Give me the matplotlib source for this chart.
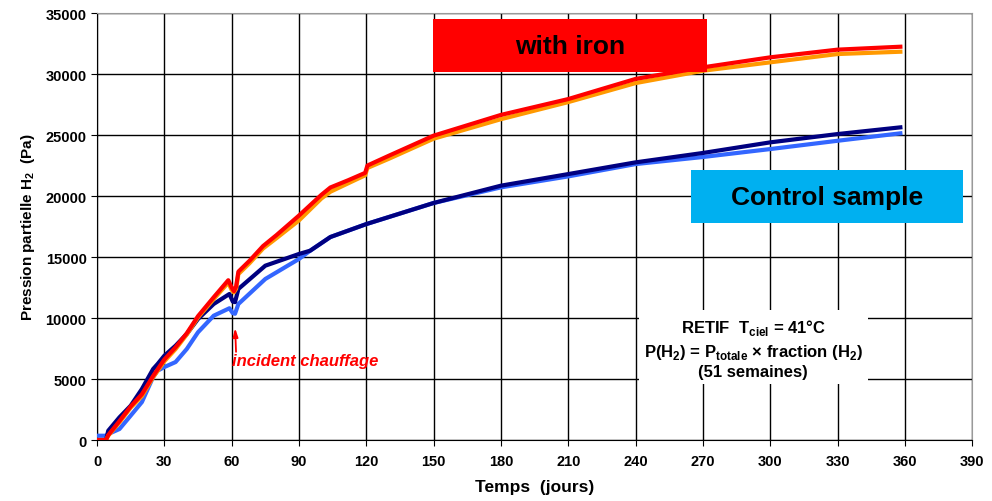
import matplotlib
matplotlib.use("Agg")
import matplotlib.pyplot as plt
from matplotlib.patches import Rectangle

plt.rcParams['font.family'] = ['Liberation Sans', 'DejaVu Sans']

# days
days_fe = [0, 4, 5, 10, 15, 20, 25, 30, 35, 40, 45, 52, 58.5, 60, 61, 62, 63, 68, 74, 80, 90, 100, 104, 112, 119.5, 120.5, 130, 150, 180, 210, 240, 270, 300, 330, 358]
red = [0, 0, 400, 1550, 2750, 3750, 5250, 6600, 7600, 8750, 10150, 11700, 13100, 12500, 12200, 12600, 13800, 14700, 15900, 16800, 18400, 20100, 20700, 21300, 21900, 22500, 23300, 24950, 26650, 27950, 29600, 30550, 31370, 32000, 32240]
orange = [0, 0, 350, 1450, 2650, 3600, 5150, 6450, 7450, 8650, 10050, 11550, 12900, 12300, 12100, 12400, 13600, 14500, 15700, 16550, 18000, 19800, 20350, 21050, 21700, 22300, 23050, 24700, 26300, 27700, 29260, 30270, 30960, 31640, 31830]

days_ctrl = [0, 4, 5, 10, 15, 20, 25, 27, 30, 35, 40, 45, 52, 59, 60.5, 61.5, 63, 75, 90, 95, 104, 120, 150, 180, 210, 240, 270, 300, 330, 358]
navy = [0, 0, 760, 1860, 2810, 4180, 5820, 6230, 6910, 7730, 8690, 9920, 11150, 11970, 11350, 11300, 12380, 14290, 15250, 15520, 16640, 17700, 19430, 20850, 21800, 22760, 23530, 24400, 25080, 25630]
blue = [350, 350, 490, 900, 2000, 3110, 5160, 5680, 5980, 6390, 7460, 8830, 10190, 10800, 10400, 10350, 11150, 13200, 14840, 15520, 16640, 17700, 19430, 20710, 21610, 22620, 23200, 23850, 24530, 25140]

xticks = list(range(0, 391, 30))
yticks = list(range(0, 35001, 5000))

fig = plt.figure(figsize=(9.92, 5.02), dpi=100)
ax = fig.add_axes([0.0978, 0.1215, 0.8822, 0.8505])

ax.plot(days_ctrl, blue, color='#3366FF', lw=3, zorder=3)
ax.plot(days_ctrl, navy, color='#000080', lw=3, zorder=3)
ax.plot(days_fe, orange, color='#FF9900', lw=3, zorder=4)
ax.plot(days_fe, red, color='#FF0000', lw=3, zorder=4)

ax.set_xlim(0, 390)
ax.set_ylim(0, 35000)
ax.set_xticks(xticks)
ax.set_yticks(yticks)
ax.grid(True, color='black', lw=1.0, zorder=0)
ax.set_axisbelow(True)
ax.tick_params(labelsize=10.5, length=4, direction='out')
for lab in ax.get_xticklabels() + ax.get_yticklabels():
    lab.set_fontweight('bold')
ax.tick_params(axis='x', pad=6)
for s in ['top', 'right']:
    ax.spines[s].set_color('#999999')

ax.set_xlabel('Temps  (jours)', fontsize=12.5, fontweight='bold', labelpad=8)
ax.set_ylabel('Pression partielle H$_\\mathregular{2}$  (Pa)', fontsize=11, fontweight='bold', labelpad=6)

# labelled boxes
ax.add_patch(Rectangle((0.384, 0.862), 0.313, 0.125, transform=ax.transAxes,
                       fc='#FF0000', ec='none', zorder=5))
ax.text(0.5406, 0.922, 'with iron', transform=ax.transAxes, ha='center', va='center',
        fontsize=19, fontweight='bold', zorder=6)

ax.add_patch(Rectangle((0.679, 0.509), 0.311, 0.124, transform=ax.transAxes,
                       fc='#00B0F0', ec='none', zorder=5))
ax.text(0.834, 0.569, 'Control sample', transform=ax.transAxes, ha='center', va='center',
        fontsize=19, fontweight='bold', zorder=6)

ax.text(0.750, 0.215,
        'RETIF  T$_{\\mathregular{ciel}}$ = 41°C\n'
        'P(H$_\\mathregular{2}$) = P$_{\\mathregular{totale}}$ \u00d7 fraction (H$_\\mathregular{2}$)\n'
        '(51 semaines)',
        transform=ax.transAxes, ha='center', va='center', fontsize=12, fontweight='bold',
        linespacing=1.3, zorder=6,
        bbox=dict(boxstyle='square,pad=0.3', fc='white', ec='none'))

ax.annotate('', xy=(61.5, 9400), xytext=(62, 7000),
            arrowprops=dict(arrowstyle='-|>,head_length=0.5,head_width=0.15', color='#FF0000', lw=1.3))
ax.text(60.0, 6500, 'incident chauffage', color='#FF0000', fontsize=12,
        fontweight='bold', style='italic', ha='left', va='center', zorder=6)

fig.savefig('out.png', dpi=100)
